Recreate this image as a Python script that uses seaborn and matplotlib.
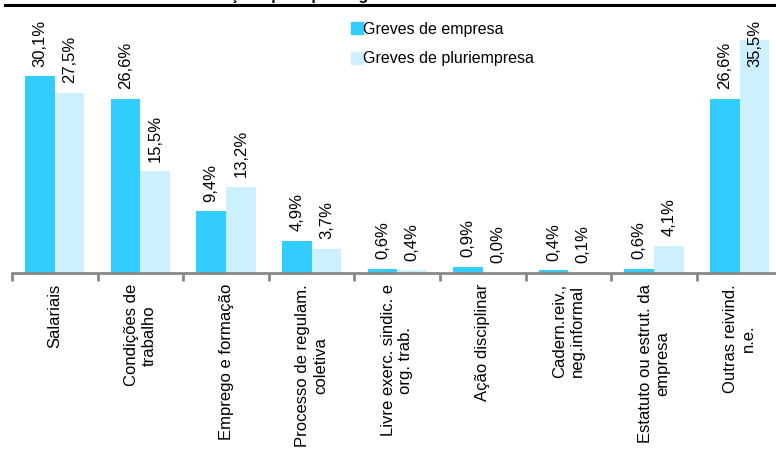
import pandas as pd
import seaborn as sns
import matplotlib.pyplot as plt
from matplotlib.lines import Line2D

# Data (%)
categories = ['Salariais', 'Condições de\ntrabalho', 'Emprego e formação',
              'Processo de regulam.\ncoletiva', 'Livre exerc. sindic. e\norg. trab.',
              'Ação disciplinar', 'Cadern.reiv.,\nneg.informal',
              'Estatuto ou estrut. da\nempresa', 'Outras reivind.\nn.e.']
empresa = [30.1, 26.6, 9.4, 4.9, 0.6, 0.9, 0.4, 0.6, 26.6]
pluriempresa = [27.5, 15.5, 13.2, 3.7, 0.4, 0.0, 0.1, 4.1, 35.5]
series = ['Greves de empresa', 'Greves de pluriempresa']
colors = ['#33CCFF', '#CCF0FF']

df = pd.DataFrame({'Categoria': categories * 2,
                   'Valor': empresa + pluriempresa,
                   'Serie': [series[0]] * 9 + [series[1]] * 9})

plt.rcParams['font.family'] = ['Liberation Sans', 'DejaVu Sans']

fig = plt.figure(figsize=(7.76, 4.59), dpi=100)
ax = fig.add_axes([12 / 776, 186 / 459, 770.4 / 776, 262 / 459])

sns.barplot(data=df, x='Categoria', y='Valor', hue='Serie',
            palette=colors, saturation=1, width=0.69,
            errorbar=None, ax=ax, legend=False)

ax.set_ylim(0, 40)
ax.set_xlim(-0.5, 8.5)

# value labels above the bars (kept inside the plot area at the top)
for cont, vals in zip(ax.containers, [empresa, pluriempresa]):
    for bar, v in zip(cont, vals):
        y = min(bar.get_height() + 1.5, 31.4)
        ax.text(bar.get_x() + bar.get_width() / 2, y,
                f'{v:.1f}%'.replace('.', ','), rotation=90,
                ha='center', va='bottom', fontsize=12)

# axes styling
for s in ['top', 'right', 'left']:
    ax.spines[s].set_visible(False)
ax.spines['bottom'].set_color('#888888')
ax.spines['bottom'].set_linewidth(2)
ax.set_yticks([])
ax.set_xlabel('')
ax.set_ylabel('')
ax.set_xticks(range(9))
ax.set_xticklabels(categories, rotation=90, ha='center', va='top',
                   multialignment='center', fontsize=12)
ax.tick_params(axis='x', which='major', length=0, pad=8)
ax.set_xticks([i - 0.5 for i in range(10)], minor=True)
ax.tick_params(axis='x', which='minor', length=6, width=2, color='#888888')

# legend
handles = [Line2D([0], [0], marker='s', linestyle='', markersize=8,
                  markerfacecolor=c, markeredgecolor=c) for c in colors]
fig.legend(handles, series, loc='upper left',
           bbox_to_anchor=(344 / 776, 1 - 14 / 459), frameon=False,
           fontsize=11.5, handlelength=0.6, handletextpad=0.1,
           labelspacing=0.9, borderpad=0)

# cut-off title and the rule under it
fig.text(276 / 776, 1 - 3 / 459, 'Reivindicações por tipo de greve',
         ha='center', va='bottom', fontsize=11.5, fontweight='bold')
fig.add_artist(Line2D([5 / 776, 1], [1 - 4.5 / 459] * 2, color='black',
                      linewidth=2.2, transform=fig.transFigure))

fig.savefig('out.png', dpi=100)
